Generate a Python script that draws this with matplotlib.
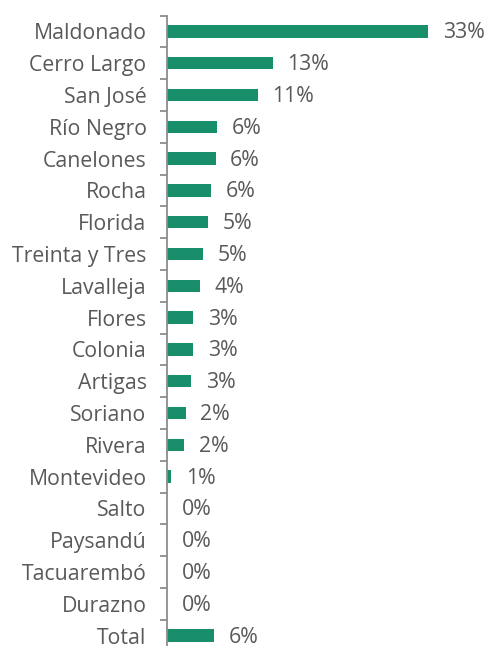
import numpy as np
import matplotlib
matplotlib.use('Agg')
import matplotlib.pyplot as plt

plt.rcParams['font.family'] = ['Open Sans', 'DejaVu Sans']

departamentos = ['Maldonado', 'Cerro Largo', 'San José', 'Río Negro', 'Canelones',
                 'Rocha', 'Florida', 'Treinta y Tres', 'Lavalleja', 'Flores',
                 'Colonia', 'Artigas', 'Soriano', 'Rivera', 'Montevideo',
                 'Salto', 'Paysandú', 'Tacuarembó', 'Durazno', 'Total']
valores = [33.0, 13.3, 11.4, 6.3, 6.1, 5.5, 5.1, 4.5, 4.1, 3.3,
           3.3, 3.0, 2.3, 2.1, 0.5, 0.0, 0.0, 0.0, 0.0, 5.9]

verde = '#188f6a'
gris_txt = '#595959'
gris_eje = '#8c8c8c'

fig = plt.figure(figsize=(4.88, 6.46), dpi=100)
ax = fig.add_axes([0.343, -0.0086, 0.648, 0.9845])

y = np.arange(len(departamentos))[::-1]
ax.barh(y, valores, height=0.39, color=verde)

for yi, v in zip(y, valores):
    ax.annotate('%d%%' % int(np.floor(v + 0.5)), xy=(v, yi), xytext=(10.5, -1.0),
                textcoords='offset points', va='center', ha='left',
                fontsize=15.3, color=gris_txt)

ax.set_xlim(0, 40)
ax.set_ylim(-0.5, len(departamentos) - 0.5)
ax.set_yticks(y)
ax.set_yticklabels(departamentos, fontsize=15.3, color=gris_txt)
ax.set_yticks(np.arange(len(departamentos) + 1) - 0.5, minor=True)
ax.tick_params(axis='y', which='major', length=0, pad=15)
ax.tick_params(axis='y', which='minor', length=5, width=1.3, color=gris_eje, direction='out')
ax.set_xticks([])

for s in ['top', 'right', 'bottom']:
    ax.spines[s].set_visible(False)
ax.spines['left'].set_color(gris_eje)
ax.spines['left'].set_linewidth(1.3)

fig.savefig('out.png', dpi=100)
